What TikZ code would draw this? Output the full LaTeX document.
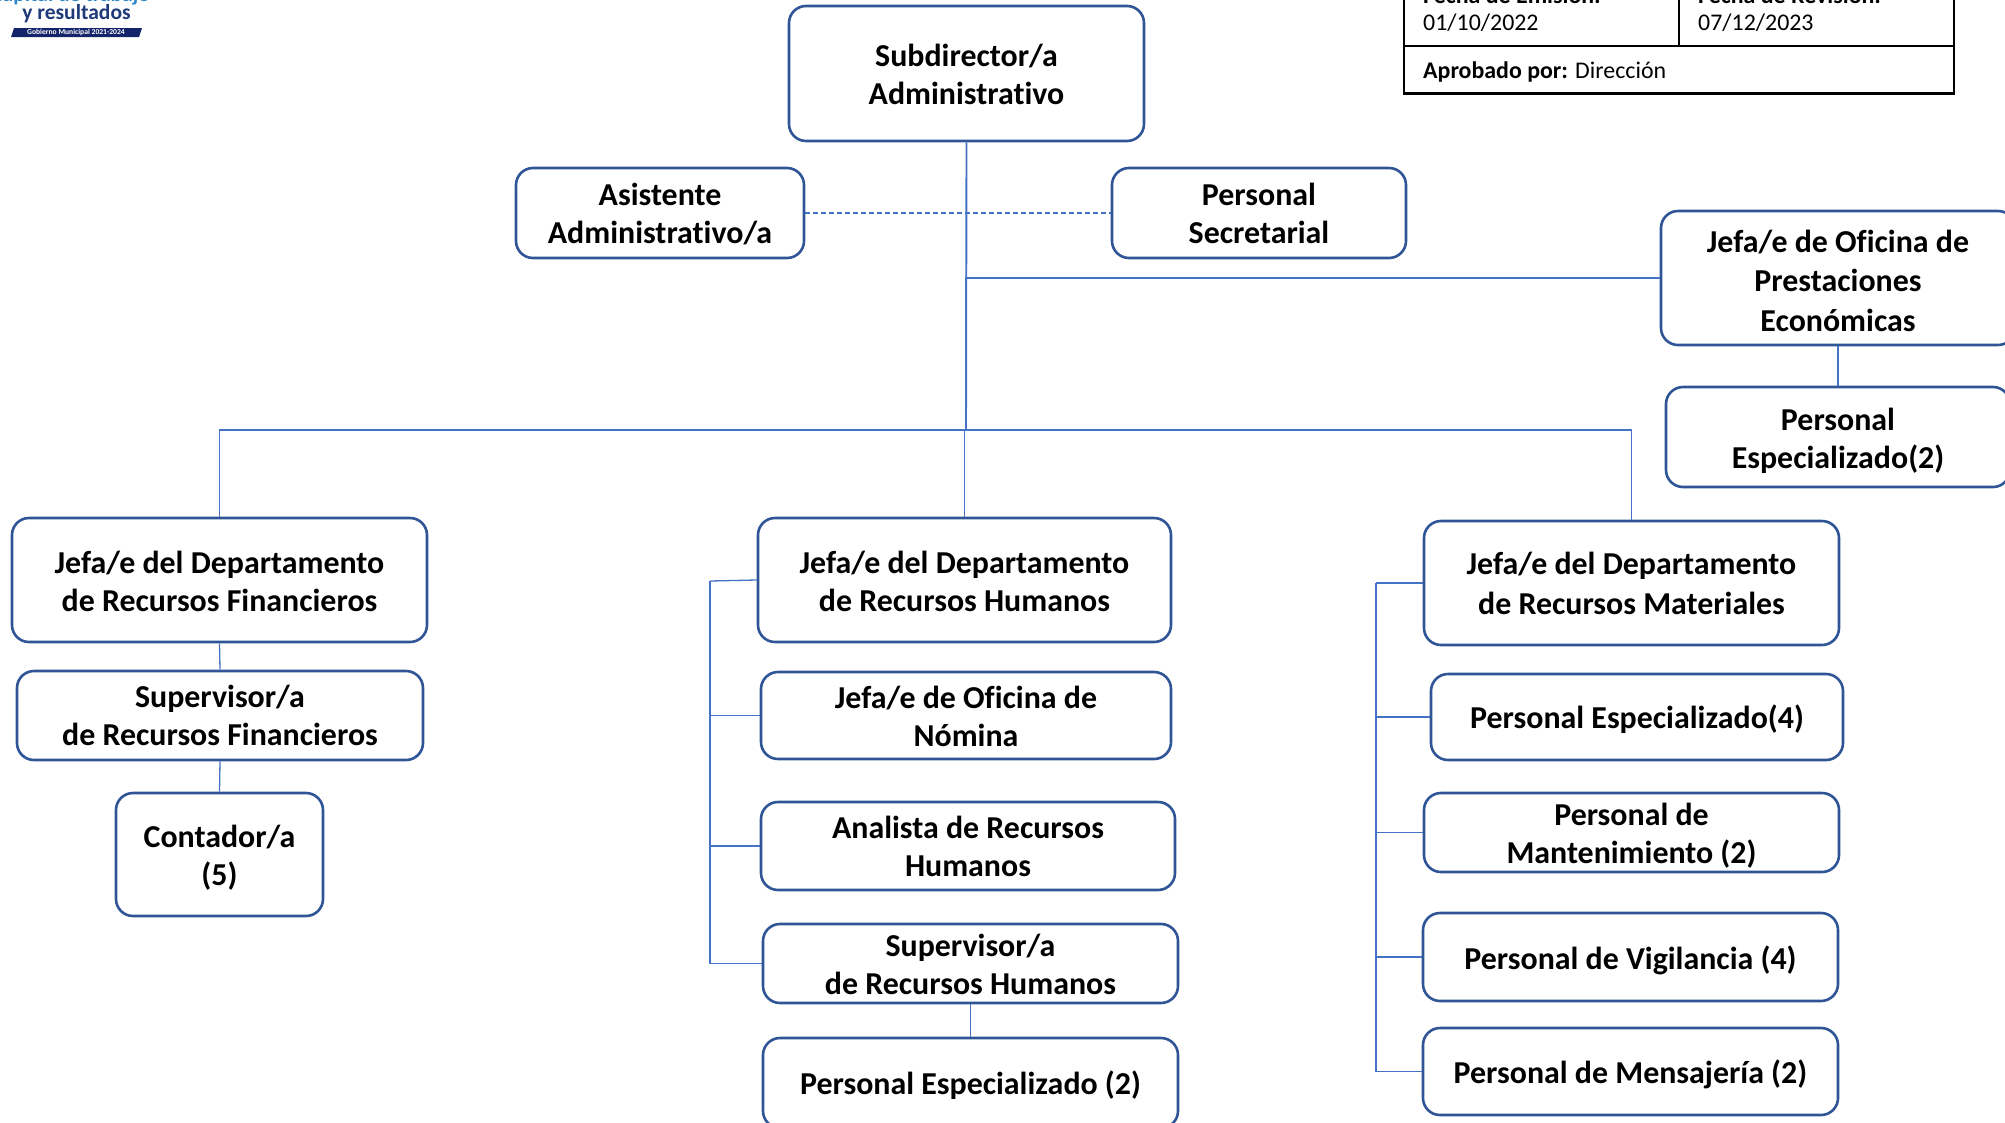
\documentclass[tikz,border=0pt]{standalone}
\usepackage{fontspec}
\setmainfont{Carlito}[Ligatures=CommonOff]
\definecolor{boxc}{HTML}{2F5597}
\definecolor{linkc}{HTML}{4472C4}
\definecolor{logoblue}{HTML}{1F3A7A}
\definecolor{logotop}{HTML}{2E86C8}
\definecolor{banner}{HTML}{14246B}
\tikzset{
  orgbox/.style={draw=boxc,line width=2.6pt,rounded corners=17pt,fill=white,inner sep=0pt},
  orgtext/.style={align=center,font=\fontsize{31.9}{38}\selectfont\bfseries,inner sep=0pt,text=black},
  link/.style={draw=linkc,line width=1.3pt},
  tabline/.style={draw=black,line width=2.6pt},
  tabtext/.style={anchor=base west,inner sep=0pt,font=\fontsize{23.9}{28}\selectfont,text=black}
}
\newcommand{\orgnode}[7]{% name, x1,y1,x2,y2, text offset, text
  \node[orgbox,minimum width={(#4-#2)*1pt},minimum height={(#5-#3)*1pt}] (#1) at ({(#2+#4)/2},{(#3+#5)/2}) {};
  \node[orgtext] (#1text) at ([yshift=-#6pt]#1.center) {#7};}
\begin{document}
\begin{tikzpicture}[x=1pt,y=-1pt]
\useasboundingbox (0,0) rectangle (2005,1122);
\clip (0,0) rectangle (2005,1122);
% logo
\node[inner sep=0pt,anchor=base east,font=\fontsize{21.5}{24}\selectfont\bfseries,text=logotop] (logoa) at (150,1) {capital de trabajo};
\node[inner sep=0pt,anchor=base,font=\fontsize{21.5}{24}\selectfont\bfseries,text=logoblue] (logob) at (76.5,19) {y resultados};
\fill[banner] (14,28) -- (142,28) -- (139,37) -- (11,37) -- cycle;
\node[inner sep=0pt,font=\fontsize{7.6}{8}\selectfont\bfseries,text=white] (logoc) at (76,32.5) {Gobierno Municipal 2021-2024};
% table
\coordinate (tl) at (1404,-40);
\coordinate (tm) at (1679,-40);
\coordinate (tr) at (1954,-40);
\coordinate (ml) at (1404,46);
\coordinate (mm) at (1679,46);
\coordinate (mr) at (1954,46);
\coordinate (bl) at (1404,93.5);
\coordinate (br) at (1954,93.5);
\draw[tabline] (tl) -- (bl) -- (br) -- (tr);
\draw[tabline] (ml) -- (mr);
\draw[tabline] (tm) -- (mm);
\node[tabtext,font=\fontsize{23.9}{28}\selectfont\bfseries] (t1) at (1423,3) {Fecha de Emisión:};
\node[tabtext] (t2) at (1423,30) {01/10/2022};
\node[tabtext,font=\fontsize{23.9}{28}\selectfont\bfseries] (t3) at (1698,3) {Fecha de Revisión:};
\node[tabtext] (t4) at (1698,30) {07/12/2023};
\node[tabtext] (t5) at (1423,78) {\textbf{Aprobado por:} Dirección};
% boxes
\orgnode{sub}{789}{6}{1144}{141}{0.5}{Subdirector/a\\Administrativo}
\orgnode{asis}{516}{168}{804}{258}{1}{Asistente\\Administrativo/a}
\orgnode{secr}{1112}{168}{1406}{258}{0}{Personal\\Secretarial}
\orgnode{pres}{1661}{211}{2015}{345}{2.5}{Jefa/e de Oficina de\\[1.5pt]Prestaciones\\[1.5pt]Económicas}
\orgnode{pe}{1666}{387}{2010}{487}{4}{Personal\\Especializado(2)}
\orgnode{rf}{12}{518}{427}{642}{1}{Jefa/e del Departamento\\de Recursos Financieros}
\orgnode{suprf}{17}{671}{423}{760}{0}{Supervisor/a\\de Recursos Financieros}
\orgnode{cont}{116}{793}{323}{916}{3}{Contador/a\\(5)}
\orgnode{rh}{758}{518}{1171}{642}{1}{Jefa/e del Departamento\\de Recursos Humanos}
\orgnode{nom}{761}{672}{1171}{759}{0.5}{Jefa/e de Oficina de\\Nómina}
\orgnode{ana}{761}{802}{1175}{890}{0}{Analista de Recursos\\Humanos}
\orgnode{suprh}{763}{924}{1178}{1003}{1}{Supervisor/a\\de Recursos Humanos}
\orgnode{perh}{763}{1038}{1178}{1128}{2.5}{Personal Especializado (2)}
\orgnode{rm}{1424}{521}{1839}{645}{0.5}{Jefa/e del Departamento\\[1.5pt]de Recursos Materiales}
\orgnode{pe4}{1431}{674}{1843}{760}{2.5}{Personal Especializado(4)}
\orgnode{man}{1424}{793}{1839}{872}{3}{Personal de\\Mantenimiento (2)}
\orgnode{vig}{1423}{913}{1838}{1001}{3}{Personal de Vigilancia (4)}
\orgnode{men}{1423}{1028}{1838}{1115}{2.5}{Personal de Mensajería (2)}
% connectors
\coordinate (tj) at (966,430);
\coordinate (rhbus) at (710,581);
\coordinate (rmbus) at (1376,583);
\draw[link,line width=1.9pt] (sub.south) -- (tj);
\draw[link,dash pattern=on 5pt off 3pt] (asis.east) -- (secr.west);
\draw[link] (pres.west) -| (tj);
\draw[link] (pres.south) -- (pe.north);
\draw[link] (tj) -| (rf.north);
\draw[link] (rh.north |- tj) -- (rh.north);
\draw[link] (tj) -| (rm.north);
\draw[link] (rf.south) -- (suprf.north);
\draw[link] (suprf.south) -- (cont.north);
\draw[link] (rh.west) -- (rhbus);
\draw[link] (rhbus) |- (nom.west);
\draw[link] (rhbus) |- (ana.west);
\draw[link] (rhbus) |- (suprh.west);
\draw[link] (suprh.south) -- (perh.north);
\draw[link] (rm.west) -- (rmbus);
\draw[link] (rmbus) |- (pe4.west);
\draw[link] (rmbus) |- (man.west);
\draw[link] (rmbus) |- (vig.west);
\draw[link] (rmbus) |- (men.west);
\end{tikzpicture}
\end{document}
